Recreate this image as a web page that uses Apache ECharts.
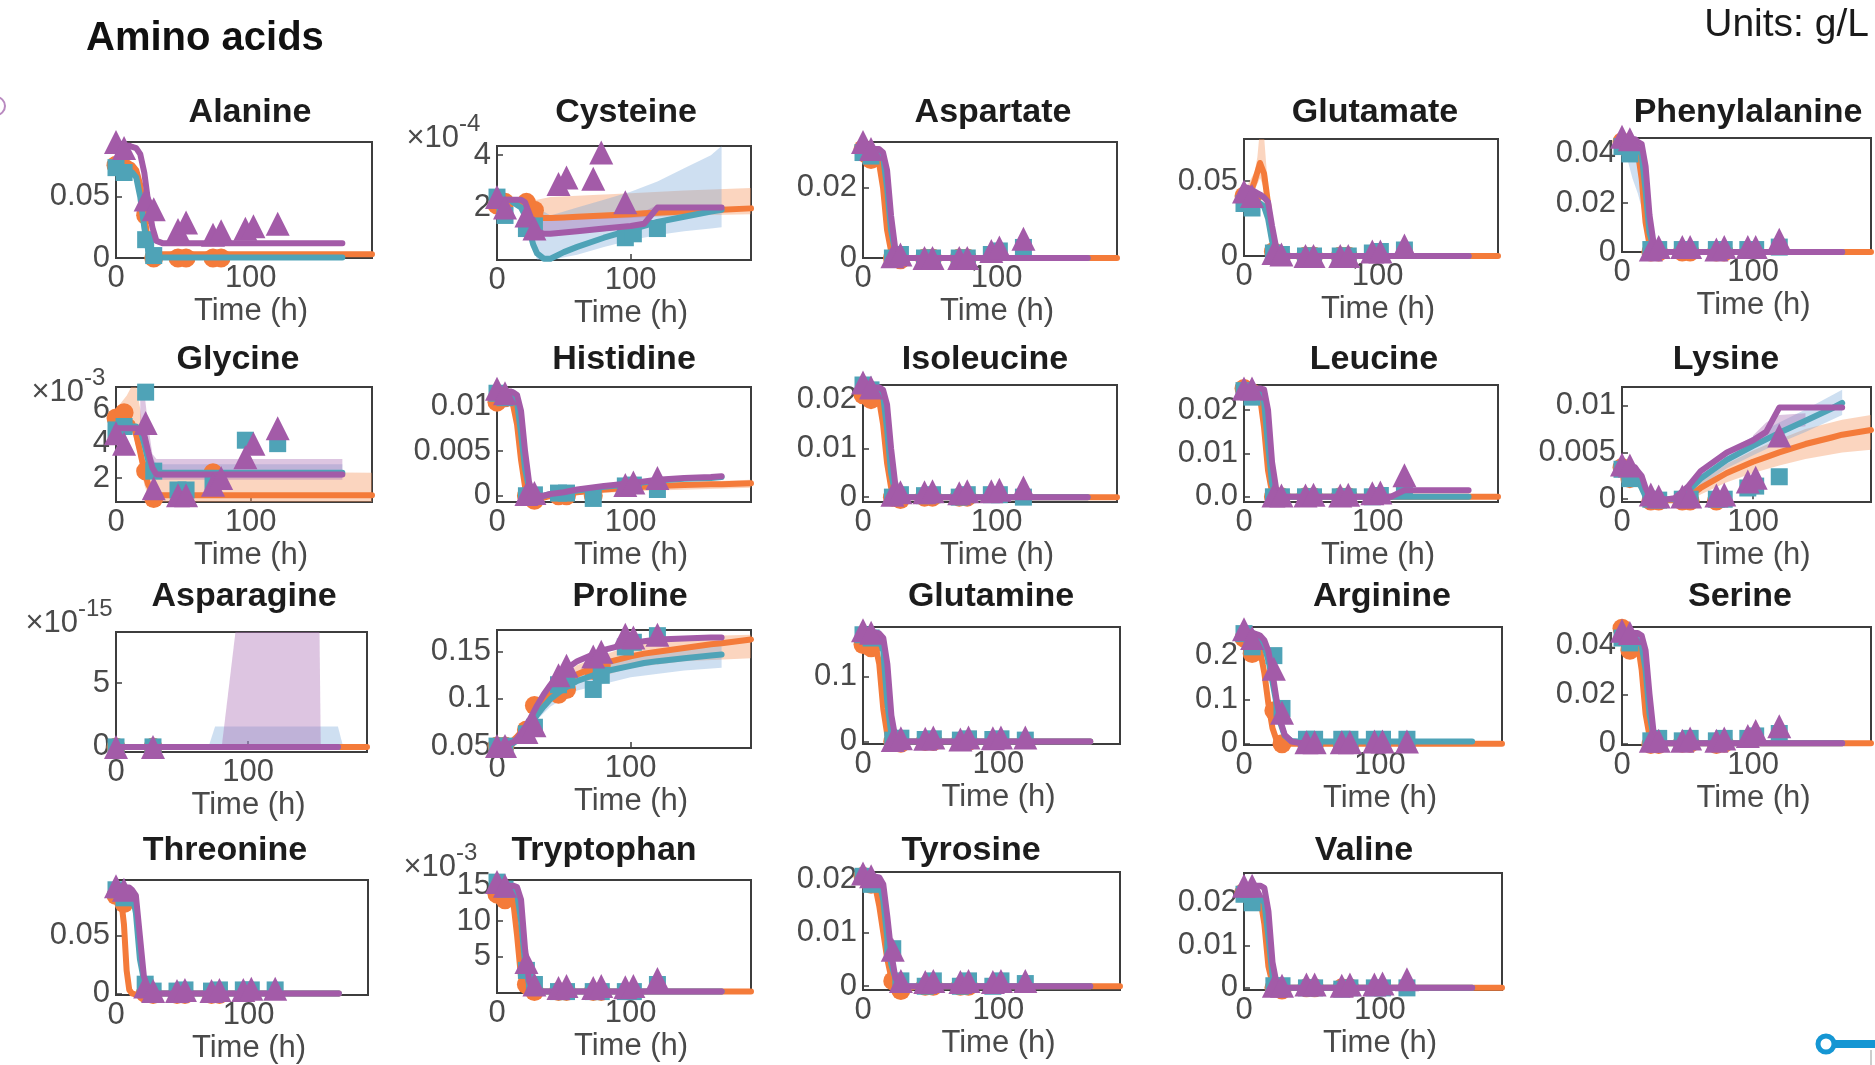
<!DOCTYPE html>
<html>
<head>
<meta charset="utf-8">
<title>Amino acids</title>
<script src="https://cdn.jsdelivr.net/npm/echarts@6/dist/echarts.min.js"></script>
<style>
html, body { margin: 0; padding: 0; background: #ffffff; }
#chart { width: 1875px; height: 1065px; }
</style>
</head>
<body>
<div id="chart"></div>
<script>
// ---- Shared time bases (hours) ----
const fitTime = [0, 4, 6, 8, 10, 12, 15, 18, 21, 24, 27, 30,
                 35, 40, 50, 60, 80, 100, 110, 120, 140, 160, 168, 190];
const obsTime = [0, 6, 22, 28, 46, 52, 72, 78, 96, 102, 120];
const xTicks = [0, 100];
const xTickText = ['0', '100'];

// ---- Alanine (g/L) ----
const alaFitO = [0.078,0.078,0.078,0.077,0.077,0.076,0.072,0.06,0.035,0.012,0.005,0.003,
                 0.003,0.003,0.003,0.003,0.003,0.003,0.003,0.003,0.003,0.003,0.003,0.003];
const alaFitT = [0.073,0.073,0.072,0.072,0.071,0.07,0.066,0.05,0.025,0.006,0.001,0.0005,
                 0.0005,0.0005,0.0005,0.0005,0.0005,0.0005,0.0005,0.0005,0.0005,0.0005,0.0005,null];
const alaFitP = [0.092,0.092,0.092,0.092,0.092,0.091,0.09,0.085,0.07,0.045,0.025,0.014,
                 0.012,0.012,0.012,0.012,0.012,0.012,0.012,0.012,0.012,0.012,0.012,null];
const alaObsO = [0.076,0.074,0.035,0,0,0,0,0,null,null,null];
const alaObsT = [0.074,0.07,0.015,0.002,null,null,null,null,null,null,null];
const alaObsP = [0.095,0.09,0.048,0.04,0.023,0.029,0.019,0.022,0.024,0.026,0.028];
const alaRange = [0, 0.095];
const alaTicks = [0, 0.05];
const alaTickText = ['0', '0.05'];

// ---- Cysteine (units of 1e-4 g/L) ----
const cysFitO = [2.2,2.2,2.2,2.2,2.2,2.2,2.2,2.2,2.2,2.1,1.9,1.7,
                 1.6,1.6,1.62,1.65,1.7,1.75,1.78,1.8,1.85,1.9,1.92,1.97];
const cysFitT = [2.3,2.3,2.3,2.3,2.3,2.2,2.1,2.0,1.7,1.2,0.6,0.25,
                 0.05,0.05,0.3,0.5,0.85,1.15,1.3,1.45,1.65,1.85,1.92,null];
const cysFitP = [2.3,2.3,2.3,2.3,2.3,2.3,2.3,2.3,2.2,1.8,1.4,1.1,
                 1.0,1.0,1.05,1.1,1.2,1.3,1.38,2.0,2.0,2.0,2.0,null];
const cysBandO = [[0,2.1,2.3],[21,2.1,2.3],[27,1.7,2.3],[30,1.5,2.3],[40,1.5,2.4],[60,1.55,2.45],[100,1.6,2.55],[140,1.7,2.65],[190,1.75,2.75]];
const cysBandT = [[24,1.0,2.2],[30,0,2.0],[40,0,1.7],[60,0.2,2.0],[80,0.5,2.3],[100,0.75,2.6],[120,0.95,3.0],[140,1.1,3.5],[160,1.2,4.0],[168,1.25,4.35]];
const cysBandP = [[30,1.0,1.6],[40,0.95,1.6],[80,1.1,1.75],[110,1.25,1.85],[120,1.8,2.1],[168,1.85,2.1]];
const cysObsO = [2.1,2.2,2.2,1.9,null,null,null,null,null,null,null];
const cysObsT = [2.4,1.7,1.2,1.3,null,null,null,null,0.85,1.0,1.2];
const cysObsP = [2.4,2.0,1.7,1.2,2.9,3.15,3.1,4.1,2.2,null,null];
const cysRange = [0, 4.35];
const cysTicks = [2, 4];
const cysTickText = ['2', '4'];

// ---- Aspartate ----
const aspFitO = [0.028,0.028,0.028,0.028,0.027,0.027,0.02,0.008,0.002,0,0,0,
                 0,0,0,0,0,0,0,0,0,0,0,0];
const aspFitT = [0.03,0.03,0.03,0.03,0.03,0.03,0.029,0.02,0.008,0.002,0,0,
                 0,0,0,0,0,0,0,0,0,0,0,null];
const aspFitP = [0.031,0.031,0.031,0.031,0.031,0.031,0.03,0.025,0.012,0.003,0.0005,0,
                 0,0,0,0,0,0,0,0,0,0,0,null];
const aspObsO = [0.031,0.028,0,-0.0005,0,0,0,0,null,null,null];
const aspObsT = [0.03,0.029,0,0.001,0,0,0,0,0.001,0.002,0.003];
const aspObsP = [0.033,0.031,0.0005,0.001,0,0,0,0,0.002,0.003,0.0055];
const aspRange = [0, 0.033];
const aspTicks = [0, 0.02];
const aspTickText = ['0', '0.02'];

// ---- Glutamate ----
const gluFitO = [0.04,0.042,0.045,0.05,0.056,0.062,0.055,0.035,0.012,0.003,0.001,0,
                 0,0,0,0,0,0,0,0,0,0,0,0];
const gluFitT = [0.035,0.035,0.035,0.035,0.035,0.035,0.033,0.025,0.01,0.002,0,0,
                 0,0,0,0,0,0,0,0,0,0,0,null];
const gluFitP = [0.046,0.045,0.044,0.043,0.042,0.041,0.039,0.036,0.02,0.006,0.001,0,
                 0,0,0,0,0,0,0,0,0,0,0,null];
const gluBandO = [[0,0.037,0.043],[8,0.044,0.056],[10,0.048,0.066],[12,0.052,0.085],[15,0.045,0.08],[18,0.028,0.045],[21,0.008,0.018],[24,0,0.005],[30,0,0.001]];
const gluObsO = [0.04,0.038,0.003,0,0,0,0,0,null,null,null];
const gluObsT = [0.035,0.032,0.002,0.001,0,0,0,0,0.002,0.003,0.004];
const gluObsP = [0.043,0.04,0.002,0.001,0,0,0,0,0.003,0.003,0.007];
const gluRange = [0, 0.078];
const gluTicks = [0, 0.05];
const gluTickText = ['0', '0.05'];

// ---- Phenylalanine ----
const pheFitO = [0.042,0.042,0.042,0.042,0.042,0.041,0.03,0.012,0.003,0.001,0,0,
                 0,0,0,0,0,0,0,0,0,0,0,0];
const pheFitT = [0.042,0.042,0.042,0.042,0.042,0.042,0.04,0.025,0.008,0.002,0.0005,0,
                 0,0,0,0,0,0,0,0,0,0,0,null];
const pheFitP = [0.046,0.046,0.046,0.046,0.046,0.045,0.044,0.035,0.015,0.004,0.001,0,
                 0,0,0,0,0,0,0,0,0,0,0,null];
const pheBandT = [[4,0.038,0.043],[8,0.03,0.043],[12,0.024,0.043],[15,0.018,0.04],[18,0.008,0.026],[21,0,0.01],[24,0,0.002]];
const pheObsO = [0.045,0.041,0,0,0,0,0,0,null,null,null];
const pheObsT = [0.043,0.04,0.001,0.001,0.001,0.001,0.001,0.001,0.001,0.001,0.002];
const pheObsP = [0.047,0.046,0.001,0.002,0.002,0.002,0.001,0.002,0.002,0.002,0.005];
const pheRange = [0, 0.0465];
const pheTicks = [0, 0.02, 0.04];
const pheTickText = ['0', '0.02', '0.04'];

// ---- Glycine (units of 1e-3 g/L) ----
const glyFitO = [5.6,5.5,5.5,5.4,5.3,5.2,4.5,3.5,2.4,1.6,1.2,1.0,
                 1.0,1.0,1.0,1.0,1.0,1.0,1.0,1.0,1.0,1.0,1.0,1.0];
const glyFitT = [5.0,5.0,5.0,5.0,5.0,5.0,5.0,4.8,4.0,3.0,2.5,2.3,
                 2.3,2.3,2.3,2.3,2.3,2.3,2.3,2.3,2.3,2.3,2.3,null];
const glyFitP = [4.9,4.9,4.9,4.9,4.9,4.9,4.9,4.8,4.5,3.5,2.6,2.2,
                 2.2,2.2,2.2,2.2,2.2,2.2,2.2,2.2,2.2,2.2,2.2,null];
const glyBandO = [[0,5.2,6.0],[8,5.0,6.8],[12,4.8,7.4],[15,3.8,7.4],[18,2.8,6.0],[21,1.6,4.0],[24,0.9,3.0],[30,0.6,2.4],[190,0.6,2.3]];
const glyBandT = [[18,4.5,5.4],[21,3.4,4.8],[24,2.5,3.6],[30,2.0,2.8],[168,2.0,2.8]];
const glyBandP = [[18,4.0,7.2],[21,3.5,7.0],[24,2.6,5.0],[27,2.0,3.4],[30,1.9,3.1],[168,1.9,3.1]];
const glyObsO = [5.5,5.8,2.4,0.8,null,null,2.3,null,null,null,null];
const glyObsT = [4.8,5.0,7.0,2.4,1.3,1.3,1.8,null,4.2,null,4.0];
const glyObsP = [4.6,4.0,5.2,1.4,1.0,1.0,1.6,2.0,3.2,4.0,4.9];
const glyRange = [0.6, 7.3];
const glyTicks = [2, 4, 6];
const glyTickText = ['2', '4', '6'];

// ---- Histidine ----
const hisFitO = [0.0105,0.0105,0.0105,0.0105,0.0104,0.0102,0.008,0.004,0.001,-0.0003,-0.0005,-0.0004,
                 -0.0002,0,0.0002,0.0004,0.0007,0.0009,0.001,0.0011,0.0012,0.0013,0.0013,0.0014];
const hisFitT = [0.0112,0.0112,0.0112,0.0112,0.0112,0.0111,0.0105,0.007,0.003,0.0008,0.0001,0,
                 0,0.0002,0.0004,0.0006,0.001,0.0013,0.0015,0.0017,0.0019,0.002,0.0021,null];
const hisFitP = [0.0118,0.0118,0.0117,0.0117,0.0117,0.0116,0.0113,0.0095,0.005,0.0015,0.0003,0,
                 0,0.0002,0.0004,0.0007,0.0011,0.0014,0.0016,0.0018,0.002,0.0021,0.0022,null];
const hisBandO = [[30,-0.0007,-0.0001],[40,-0.0003,0.0003],[60,0.0001,0.0007],[100,0.0005,0.0013],[190,0.0009,0.0018]];
const hisObsO = [0.0105,0.011,0,-0.0005,0,0,0,null,null,null,null];
const hisObsT = [0.0115,0.011,0,0.0001,0.0003,0.0003,-0.0003,null,0.0011,0.0012,0.0007];
const hisObsP = [0.012,0.0115,0.0002,0.0003,null,null,null,null,0.0012,0.0015,0.002];
const hisRange = [-0.0007, 0.0122];
const hisTicks = [0, 0.005, 0.01];
const hisTickText = ['0', '0.005', '0.01'];

// ---- Isoleucine ----
const ileFitO = [0.021,0.021,0.021,0.021,0.0205,0.02,0.015,0.007,0.002,0,-0.0004,-0.0003,
                 0,0,0,0,0,0,0,0,0,0,0,0];
const ileFitT = [0.022,0.022,0.022,0.022,0.022,0.022,0.021,0.014,0.005,0.001,0,0,
                 0,0,0,0,0,0,0,0,0,0,0,null];
const ileFitP = [0.0225,0.0225,0.0225,0.0225,0.0225,0.0225,0.022,0.019,0.01,0.003,0.0005,0,
                 0,0,0,0,0,0,0,0,0,0,0,null];
const ileObsO = [0.021,0.02,0,-0.0005,0,0,0,0,null,null,null];
const ileObsT = [0.023,0.022,0,0.0005,0.0003,0.0005,0,0.0005,0.0005,0.0005,0];
const ileObsP = [0.0235,0.0225,0.0005,0.001,0.001,0.0012,0.0008,0.0012,0.0012,0.0015,0.002];
const ileRange = [-0.001, 0.023];
const ileTicks = [0, 0.01, 0.02];
const ileTickText = ['0', '0.01', '0.02'];

// ---- Leucine ----
const leuFitO = [0.024,0.024,0.024,0.024,0.0235,0.023,0.016,0.006,0.001,0,0,0,
                 0,0,0,0,0,0,0,0,0,0,0,0];
const leuFitT = [0.0245,0.0245,0.0245,0.0245,0.0245,0.0245,0.022,0.012,0.003,0.0005,0,0,
                 0,0,0,0,0,0,0,0,0,0,0,null];
const leuFitP = [0.025,0.025,0.025,0.025,0.025,0.025,0.0248,0.02,0.008,0.002,0.0003,0,
                 0,0,0,0,0,0,0,0.0015,0.0015,0.0015,0.0015,null];
const leuObsO = [0.025,0.024,0,0,0,0,0,0,null,null,null];
const leuObsT = [0.0245,0.023,0,0,0,0,0,0,0,0.0003,0.0015];
const leuObsP = [0.025,0.025,0.0003,0.0003,0.0003,0.0005,0.0003,0.0005,0.0008,0.001,0.005];
const leuRange = [-0.0012, 0.0258];
const leuTicks = [0, 0.01, 0.02];
const leuTickText = ['0.0', '0.01', '0.02'];

// ---- Lysine ----
const lysFitO = [0.0033,0.0031,0.003,0.0029,0.0028,0.0025,0.0015,0.0005,0,-0.0001,-0.0001,-0.0001,
                 -0.0001,-0.0001,0.0002,0.0012,0.0028,0.004,0.0045,0.005,0.0059,0.0066,0.0069,0.0074];
const lysFitT = [0.003,0.0026,0.0024,0.0023,0.0022,0.002,0.0012,0.0003,0,0,0,0,
                 0,0,0.0008,0.0022,0.0042,0.0057,0.0064,0.0071,0.0084,0.0097,0.0103,null];
const lysFitP = [0.0036,0.0036,0.0036,0.0035,0.0034,0.003,0.0025,0.0012,0.0003,0,0,0,
                 0,0.0001,0.0013,0.003,0.005,0.0063,0.0072,0.0098,0.0098,0.0098,0.0098,null];
const lysBandO = [[50,-0.0003,0.0006],[60,0.0005,0.0019],[80,0.0018,0.0038],[100,0.0028,0.0052],[120,0.0036,0.0064],[140,0.0043,0.0075],[168,0.005,0.0085],[190,0.0053,0.009]];
const lysBandT = [[50,0.0002,0.0014],[60,0.0014,0.003],[80,0.0033,0.0051],[100,0.0047,0.0067],[120,0.006,0.0082],[140,0.0072,0.0096],[168,0.009,0.0117]];
const lysBandP = [[100,0.0058,0.0068],[110,0.0066,0.0082],[120,0.0075,0.009],[140,0.0078,0.0092]];
const lysObsO = [0.0034,0.0022,-0.0002,-0.0002,-0.0002,-0.0002,-0.0002,null,null,null,null];
const lysObsT = [0.0032,0.0022,0,-0.0001,0,0,0,0,0.0012,0.0014,0.0024];
const lysObsP = [0.0037,0.0036,0.0005,0.0003,0.0003,0.0003,0.0004,0.0005,0.0019,0.0023,0.0068];
const lysRange = [-0.0003, 0.012];
const lysTicks = [0, 0.005, 0.01];
const lysTickText = ['0', '0.005', '0.01'];

// ---- Asparagine (units of 1e-15 g/L) ----
const asnFitO = [0,0,0,0,0,0,0,0,0,0,0,0,
                 0,0,0,0,0,0,0,0,0,0,0,0];
const asnFitT = [0,0,0,0,0,0,0,0,0,0,0,0,
                 0,0,0,0,0,0,0,0,0,0,0,null];
const asnFitP = [0,0,0,0,0,0,0,0,0,0,0,0,
                 0,0,0,0,0,0,0,0,0,0,0,null];
const asnBandT = [[70,0,0],[75,0,1.6],[168,0,1.6],[172,0,0]];
const asnBandP = [[80,0,0],[91,0,9.5],[154,0,9.5],[155,0,0]];
const asnObsO = [0,null,null,0,null,null,null,null,null,null,null];
const asnObsT = [0,null,null,0,null,null,null,null,null,null,null];
const asnObsP = [0,null,null,0,null,null,null,null,null,null,null];
const asnRange = [-0.4, 9];
const asnTicks = [0, 5];
const asnTickText = ['0', '5'];

// ---- Proline ----
const proFitO = [0.05,0.051,0.052,0.053,0.054,0.056,0.06,0.065,0.07,0.076,0.082,0.088,
                 0.097,0.105,0.117,0.126,0.138,0.145,0.148,0.15,0.154,0.158,0.159,0.163];
const proFitT = [0.05,0.05,0.051,0.051,0.052,0.053,0.056,0.06,0.065,0.071,0.077,0.083,
                 0.092,0.1,0.111,0.119,0.129,0.135,0.138,0.14,0.143,0.146,0.147,null];
const proFitP = [0.05,0.05,0.051,0.052,0.053,0.054,0.058,0.064,0.07,0.077,0.085,0.093,
                 0.105,0.115,0.13,0.14,0.152,0.159,0.161,0.163,0.164,0.165,0.165,null];
const proBandO = [[30,0.083,0.093],[40,0.097,0.113],[60,0.116,0.136],[100,0.133,0.157],[140,0.14,0.166],[190,0.143,0.168]];
const proBandT = [[30,0.078,0.088],[40,0.092,0.108],[60,0.109,0.129],[100,0.123,0.147],[140,0.13,0.155],[168,0.133,0.16]];
const proObsO = [0.05,0.05,0.067,0.093,0.105,0.11,0.13,0.135,null,null,null];
const proObsT = [0.05,0.05,0.063,0.07,0.115,0.12,0.11,0.125,0.155,0.16,0.167];
const proObsP = [0.05,0.05,0.065,0.072,0.125,0.135,0.145,0.15,0.168,0.165,0.168];
const proRange = [0.048, 0.173];
const proTicks = [0.05, 0.1, 0.15];
const proTickText = ['0.05', '0.1', '0.15'];

// ---- Glutamine ----
const glnFitO = [0.15,0.15,0.15,0.15,0.14,0.12,0.05,0.01,0.002,0,0,0,
                 0,0,0,0,0,0,0,0,0,0,0,null];
const glnFitT = [0.16,0.16,0.16,0.16,0.16,0.158,0.14,0.06,0.01,0.001,0,0,
                 0,0,0,0,0,0,0,0,0,0,0,null];
const glnFitP = [0.168,0.168,0.168,0.168,0.168,0.167,0.16,0.12,0.04,0.005,0,0,
                 0,0,0,0,0,0,0,0,0,0,0,null];
const glnObsO = [0.15,0.145,0,-0.003,0,0,0,0,null,null,null];
const glnObsT = [0.165,0.16,0.002,0.005,0.003,0.004,0.002,0.004,0.003,0.004,0.002];
const glnObsP = [0.172,0.168,0.002,0.005,0.004,0.006,0.003,0.006,0.005,0.006,0.006];
const glnRange = [-0.004, 0.177];
const glnTicks = [0, 0.1];
const glnTickText = ['0', '0.1'];

// ---- Arginine ----
const argFitO = [0.24,0.235,0.232,0.23,0.22,0.21,0.16,0.09,0.035,0.008,0.001,0,
                 0,0,0,0,0,0,0,0,0,0,0,0];
const argFitT = [0.25,0.248,0.247,0.245,0.24,0.235,0.22,0.19,0.14,0.09,0.045,0.018,
                 0.006,0.005,0.005,0.005,0.005,0.005,0.005,0.005,0.005,0.005,0.005,null];
const argFitP = [0.255,0.253,0.252,0.25,0.248,0.245,0.235,0.21,0.16,0.1,0.05,0.02,
                 0.005,0.002,0.001,null,null,null,null,null,null,null,null,null];
const argObsO = [0.24,0.205,0.075,0,0,0,0,0,null,null,null];
const argObsT = [0.25,0.22,0.2,0.08,0.01,0.01,0.01,0.01,0.01,0.01,0.01];
const argObsP = [0.26,0.24,0.17,0.07,0.003,0.003,0.003,0.003,0.005,0.005,0.005];
const argRange = [-0.003, 0.265];
const argTicks = [0, 0.1, 0.2];
const argTickText = ['0', '0.1', '0.2'];

// ---- Serine ----
const serFitO = [0.044,0.044,0.043,0.043,0.042,0.041,0.03,0.012,0.003,0,-0.0005,-0.0003,
                 0,0,0,0,0,0,0,0,0,0,0,0];
const serFitT = [0.043,0.043,0.043,0.043,0.043,0.042,0.04,0.03,0.012,0.003,0.0005,0,
                 0,0,0,0,0,0,0,0,0,0,0,null];
const serFitP = [0.045,0.045,0.045,0.045,0.045,0.045,0.044,0.038,0.02,0.005,0.001,0,
                 0,0,0,0,0,0,0,0,0,0,0,null];
const serObsO = [0.047,0.038,-0.0005,-0.0005,0,0,-0.0005,0,null,null,null];
const serObsT = [0.043,0.041,0.001,0.002,0.001,0.002,0.001,0.002,0.002,0.003,0.004];
const serObsP = [0.046,0.045,0.001,0.001,0.001,0.002,0.001,0.002,0.003,0.005,0.007];
const serRange = [-0.0007, 0.0475];
const serTicks = [0, 0.02, 0.04];
const serTickText = ['0', '0.02', '0.04'];

// ---- Threonine ----
const thrFitO = [0.08,0.08,0.06,0.02,0.003,0,-0.001,-0.001,-0.001,-0.001,-0.0005,0,
                 0,0,0,0,0,0,0,0,0,0,0,null];
const thrFitT = [0.088,0.088,0.088,0.088,0.088,0.087,0.07,0.03,0.012,0.004,0.001,0,
                 0,0,0,0,0,0,0,0,0,0,0,null];
const thrFitP = [0.092,0.092,0.092,0.092,0.092,0.09,0.085,0.05,0.015,0.004,0.001,0,
                 0,0,0,0,0,0,0,0,0,0,0,null];
const thrObsO = [0.085,0.078,0,-0.001,-0.001,-0.001,-0.001,-0.001,null,null,null];
const thrObsT = [0.09,0.083,0.008,0.002,0.002,0.003,0.002,0.003,0.003,0.003,0.003];
const thrObsP = [0.093,0.09,0.006,0.002,0.002,0.003,0.002,0.003,0.003,0.004,0.004];
const thrRange = [-0.0014, 0.0985];
const thrTicks = [0, 0.05];
const thrTickText = ['0', '0.05'];

// ---- Tryptophan (units of 1e-3 g/L) ----
const trpFitO = [13.5,13.5,13.5,13.5,13.5,13,8,2,0,0,0,0,
                 0,0,0,0,0,0,0,0,0,0,0,0];
const trpFitT = [14.5,14.5,14.5,14.5,14.5,14.5,14,10,4,1,0,0,
                 0,0,0,0,0,0,0,0,0,0,0,null];
const trpFitP = [15,15,15,15,15,15,14.8,13,6,1.5,0.2,0,
                 0,0,0,0,0,0,0,0,0,0,0,null];
const trpObsO = [13.8,13,1,0,0,0,0,0,null,null,null];
const trpObsT = [15.5,14.5,3,1,0,0,0,0,0,0,1];
const trpObsP = [15.5,15,4.2,1,0.5,0.8,0.5,0.8,0.6,0.8,1.8];
const trpRange = [-0.2, 15.8];
const trpTicks = [5, 10, 15];
const trpTickText = ['5', '10', '15'];

// ---- Tyrosine ----
const tyrFitO = [0.0195,0.0195,0.0193,0.019,0.0175,0.015,0.01,0.005,0.0015,-0.0003,-0.0008,-0.0007,
                 -0.0003,0,0,0,0,0,0,0,0,0,0,0];
const tyrFitT = [0.02,0.02,0.02,0.02,0.0198,0.0195,0.016,0.009,0.004,0.0015,0.0003,0,
                 0,0,0,0,0,0,0,0,0,0,0,null];
const tyrFitP = [0.0205,0.0205,0.0205,0.0205,0.0204,0.0203,0.019,0.013,0.006,0.0015,0.0003,0,
                 0,0,0,0,0,0,0,0,0,0,0,null];
const tyrObsO = [0.0205,0.019,0.001,-0.0008,0,0,0,0,null,null,null];
const tyrObsT = [0.0205,0.019,0.007,0.001,0,0.001,0,0.001,0,0.001,0.0005];
const tyrObsP = [0.021,0.0205,0.0068,0.001,0.0008,0.001,0.0008,0.001,0.0008,0.001,0.001];
const tyrRange = [-0.0007, 0.0213];
const tyrTicks = [0, 0.01, 0.02];
const tyrTickText = ['0', '0.01', '0.02'];

// ---- Valine ----
const valFitO = [0.022,0.022,0.022,0.022,0.022,0.021,0.015,0.005,0.001,0,-0.0003,0,
                 0,0,0,0,0,0,0,0,0,0,0,0];
const valFitT = [0.021,0.021,0.021,0.021,0.021,0.021,0.02,0.012,0.003,0.0005,0,0,
                 0,0,0,0,0,0,0,0,0,0,0,null];
const valFitP = [0.024,0.024,0.024,0.024,0.024,0.024,0.0235,0.018,0.006,0.001,0,0,
                 0,0,0,0,0,0,0,0,0,0,0,null];
const valObsO = [0.0225,0.021,0,-0.0005,0,0,0,0,null,null,null];
const valObsT = [0.022,0.02,0.0005,0.0005,0,0,-0.0003,0,0,0,0];
const valObsP = [0.024,0.024,0.0005,0.0005,0.0008,0.0008,0.0005,0.0008,0.0008,0.001,0.002];
const valRange = [-0.0005, 0.027];
const valTicks = [0, 0.01, 0.02];
const valTickText = ['0', '0.01', '0.02'];

// ---- Panels (reading order) ----
const panels = [
  { title: 'Alanine', fits: [alaFitO, alaFitT, alaFitP], obs: [alaObsO, alaObsT, alaObsP], bands: [null, null, null], range: alaRange, ticks: alaTicks, tickText: alaTickText, exp: null },
  { title: 'Cysteine', fits: [cysFitO, cysFitT, cysFitP], obs: [cysObsO, cysObsT, cysObsP], bands: [cysBandO, cysBandT, cysBandP], range: cysRange, ticks: cysTicks, tickText: cysTickText, exp: '-4' },
  { title: 'Aspartate', fits: [aspFitO, aspFitT, aspFitP], obs: [aspObsO, aspObsT, aspObsP], bands: [null, null, null], range: aspRange, ticks: aspTicks, tickText: aspTickText, exp: null },
  { title: 'Glutamate', fits: [gluFitO, gluFitT, gluFitP], obs: [gluObsO, gluObsT, gluObsP], bands: [gluBandO, null, null], range: gluRange, ticks: gluTicks, tickText: gluTickText, exp: null },
  { title: 'Phenylalanine', fits: [pheFitO, pheFitT, pheFitP], obs: [pheObsO, pheObsT, pheObsP], bands: [null, pheBandT, null], range: pheRange, ticks: pheTicks, tickText: pheTickText, exp: null },
  { title: 'Glycine', fits: [glyFitO, glyFitT, glyFitP], obs: [glyObsO, glyObsT, glyObsP], bands: [glyBandO, glyBandT, glyBandP], range: glyRange, ticks: glyTicks, tickText: glyTickText, exp: '-3' },
  { title: 'Histidine', fits: [hisFitO, hisFitT, hisFitP], obs: [hisObsO, hisObsT, hisObsP], bands: [hisBandO, null, null], range: hisRange, ticks: hisTicks, tickText: hisTickText, exp: null },
  { title: 'Isoleucine', fits: [ileFitO, ileFitT, ileFitP], obs: [ileObsO, ileObsT, ileObsP], bands: [null, null, null], range: ileRange, ticks: ileTicks, tickText: ileTickText, exp: null },
  { title: 'Leucine', fits: [leuFitO, leuFitT, leuFitP], obs: [leuObsO, leuObsT, leuObsP], bands: [null, null, null], range: leuRange, ticks: leuTicks, tickText: leuTickText, exp: null },
  { title: 'Lysine', fits: [lysFitO, lysFitT, lysFitP], obs: [lysObsO, lysObsT, lysObsP], bands: [lysBandO, lysBandT, lysBandP], range: lysRange, ticks: lysTicks, tickText: lysTickText, exp: null },
  { title: 'Asparagine', fits: [asnFitO, asnFitT, asnFitP], obs: [asnObsO, asnObsT, asnObsP], bands: [null, asnBandT, asnBandP], range: asnRange, ticks: asnTicks, tickText: asnTickText, exp: '-15' },
  { title: 'Proline', fits: [proFitO, proFitT, proFitP], obs: [proObsO, proObsT, proObsP], bands: [proBandO, proBandT, null], range: proRange, ticks: proTicks, tickText: proTickText, exp: null },
  { title: 'Glutamine', fits: [glnFitO, glnFitT, glnFitP], obs: [glnObsO, glnObsT, glnObsP], bands: [null, null, null], range: glnRange, ticks: glnTicks, tickText: glnTickText, exp: null },
  { title: 'Arginine', fits: [argFitO, argFitT, argFitP], obs: [argObsO, argObsT, argObsP], bands: [null, null, null], range: argRange, ticks: argTicks, tickText: argTickText, exp: null },
  { title: 'Serine', fits: [serFitO, serFitT, serFitP], obs: [serObsO, serObsT, serObsP], bands: [null, null, null], range: serRange, ticks: serTicks, tickText: serTickText, exp: null },
  { title: 'Threonine', fits: [thrFitO, thrFitT, thrFitP], obs: [thrObsO, thrObsT, thrObsP], bands: [null, null, null], range: thrRange, ticks: thrTicks, tickText: thrTickText, exp: null },
  { title: 'Tryptophan', fits: [trpFitO, trpFitT, trpFitP], obs: [trpObsO, trpObsT, trpObsP], bands: [null, null, null], range: trpRange, ticks: trpTicks, tickText: trpTickText, exp: '-3' },
  { title: 'Tyrosine', fits: [tyrFitO, tyrFitT, tyrFitP], obs: [tyrObsO, tyrObsT, tyrObsP], bands: [null, null, null], range: tyrRange, ticks: tyrTicks, tickText: tyrTickText, exp: null },
  { title: 'Valine', fits: [valFitO, valFitT, valFitP], obs: [valObsO, valObsT, valObsP], bands: [null, null, null], range: valRange, ticks: valTicks, tickText: valTickText, exp: null }
];

// ---- Layout: plot boxes [left, top, right, bottom] in px ----
const boxes = [
  [116, 142, 372, 258], [497, 146, 751, 260], [863, 142, 1117, 258], [1244, 139, 1498, 256], [1622, 138, 1871, 252],
  [116, 387, 372, 502], [497, 387, 751, 502], [863, 385, 1117, 502], [1244, 385, 1498, 502], [1622, 387, 1871, 502],
  [116, 632, 367, 752], [497, 630, 751, 748], [863, 627, 1120, 744], [1244, 627, 1502, 745], [1622, 627, 1871, 745],
  [116, 880, 368, 997], [497, 880, 751, 993], [863, 872, 1120, 990], [1244, 873, 1502, 990]
];
const titleX = [250, 626, 993, 1375, 1748, 238, 624, 985, 1374, 1726, 244, 630, 991, 1382, 1740, 225, 604, 971, 1364];
const titleRowY = [113, 360, 597, 851];
// multiplier anchor: [x where "×10" ends, y of "×10", y of exponent]
const expAnchor = { Cysteine: [459, 138, 124], Glycine: [84, 392, 378], Asparagine: [78, 623, 609], Tryptophan: [456, 867, 853] };

// ---- Styles ----
const COLORS = ['#F47B3A', '#4FA3B7', '#A35BA8'];
const BAND_FILL = ['rgba(245,150,95,0.40)', 'rgba(120,165,215,0.36)', 'rgba(170,110,180,0.40)'];
const SYMBOLS = ['circle', 'rect', 'triangle'];
const SYMBOL_SIZE = [19, 17, 24];
const SANS = "'Liberation Sans', Arial, Helvetica, sans-serif";
const TICK_SIZE = 31;
const EXP_SIZE = 24;
const TICK_COLOR = '#4a4a4a';

const grids = [], xAxes = [], yAxes = [], series = [], graphics = [];

function bandSeries(band, idx, k) {
  return {
    type: 'custom', xAxisIndex: idx, yAxisIndex: idx, z: 1, silent: true,
    data: band, encode: { x: 0, y: [1, 2] },
    renderItem: function (params, api) {
      if (params.dataIndex !== 0) return null;
      const upper = band.map(d => api.coord([d[0], d[2]]));
      const lower = band.map(d => api.coord([d[0], d[1]])).reverse();
      const cs = params.coordSys;
      return {
        type: 'polygon',
        shape: { points: upper.concat(lower) },
        style: { fill: BAND_FILL[k] },
        clipPath: { type: 'rect', shape: { x: cs.x, y: cs.y, width: cs.width, height: cs.height } }
      };
    }
  };
}

panels.forEach((p, i) => {
  const [l, t, r, b] = boxes[i];
  grids.push({ left: l, top: t, width: r - l, height: b - t, show: true,
               borderColor: '#3d3d3d', borderWidth: 2, backgroundColor: 'rgba(0,0,0,0)' });
  xAxes.push({
    type: 'value', gridIndex: i, min: 0, max: 190,
    axisLine: { show: false }, splitLine: { show: false },
    axisTick: { show: true, inside: true, length: 6, customValues: xTicks, lineStyle: { color: '#3d3d3d', width: 1.5 } },
    axisLabel: { customValues: xTicks, margin: 5, fontSize: TICK_SIZE, fontFamily: SANS, color: TICK_COLOR,
                 formatter: v => xTickText[xTicks.indexOf(v)] },
    name: 'Time (h)', nameLocation: 'middle', nameGap: 38,
    nameTextStyle: { fontSize: TICK_SIZE, fontFamily: SANS, color: TICK_COLOR, padding: [0, 0, 0, 14] }
  });
  const span = p.range[1] - p.range[0];
  yAxes.push({
    type: 'value', gridIndex: i, min: p.range[0], max: p.range[1],
    axisLine: { show: false }, splitLine: { show: false },
    axisTick: { show: true, inside: true, length: 6, customValues: p.ticks, lineStyle: { color: '#3d3d3d', width: 1.5 } },
    axisLabel: { customValues: p.ticks, margin: 6, fontSize: TICK_SIZE, fontFamily: SANS, color: TICK_COLOR,
                 formatter: v => { const j = p.ticks.findIndex(u => Math.abs(u - v) <= span * 1e-6); return j < 0 ? '' : p.tickText[j]; } }
  });
  p.bands.forEach((band, k) => { if (band) series.push(bandSeries(band, i, k)); });
  p.fits.forEach((fit, k) => {
    series.push({
      type: 'line', xAxisIndex: i, yAxisIndex: i, z: 2 + 2 * k, clip: false, silent: true,
      data: fitTime.map((tt, j) => [tt, fit[j]]),
      showSymbol: false, connectNulls: false, smooth: false,
      lineStyle: { color: COLORS[k], width: 6, cap: 'round', join: 'round' }
    });
    series.push({
      type: 'scatter', xAxisIndex: i, yAxisIndex: i, z: 3 + 2 * k, clip: false, silent: true,
      data: obsTime.map((tt, j) => p.obs[k][j] === null ? null : [tt, p.obs[k][j]]).filter(d => d !== null),
      symbol: SYMBOLS[k], symbolSize: SYMBOL_SIZE[k],
      itemStyle: { color: COLORS[k], opacity: 1 }
    });
  });
  graphics.push({
    type: 'text', x: titleX[i], y: titleRowY[Math.floor(i / 5)],
    style: { text: p.title, align: 'center', verticalAlign: 'middle',
             font: "bold 34px " + SANS, fill: '#1c1c1c' }
  });
  if (p.exp) {
    const a = expAnchor[p.title];
    graphics.push({ type: 'text', x: a[0], y: a[1],
      style: { text: '\u00d710', align: 'right', verticalAlign: 'middle', font: TICK_SIZE + "px " + SANS, fill: TICK_COLOR } });
    graphics.push({ type: 'text', x: a[0], y: a[2],
      style: { text: p.exp, align: 'left', verticalAlign: 'middle', font: EXP_SIZE + "px " + SANS, fill: TICK_COLOR } });
  }
});

// Header texts
graphics.push({ type: 'text', x: 86, y: 39,
  style: { text: 'Amino acids', align: 'left', verticalAlign: 'middle', font: 'bold 40px ' + SANS, fill: '#111111' } });
graphics.push({ type: 'text', x: 1869, y: 25,
  style: { text: 'Units: g/L', align: 'right', verticalAlign: 'middle', font: '39px ' + SANS, fill: '#1a1a1a' } });
// Fragments of neighbouring panels at the page edges
graphics.push({ type: 'line', shape: { x1: 1834, y1: 1044, x2: 1875, y2: 1044 }, style: { stroke: '#1596d3', lineWidth: 8 } });
graphics.push({ type: 'circle', shape: { cx: 1826, cy: 1044, r: 8 }, style: { fill: '#ffffff', stroke: '#1596d3', lineWidth: 5 } });
graphics.push({ type: 'line', shape: { x1: 1871, y1: 1050, x2: 1871, y2: 1065 }, style: { stroke: '#9a9a9a', lineWidth: 1 } });
graphics.push({ type: 'arc', shape: { cx: -4, cy: 106, r: 9, startAngle: -Math.PI / 2, endAngle: Math.PI / 2 }, style: { stroke: '#b98ac0', lineWidth: 2, fill: null } });

const chart = echarts.init(document.getElementById('chart'), null, { renderer: 'canvas' });
chart.setOption({
  animation: false,
  backgroundColor: '#ffffff',
  grid: grids,
  xAxis: xAxes,
  yAxis: yAxes,
  series: series,
  graphic: graphics
});
</script>
</body>
</html>
